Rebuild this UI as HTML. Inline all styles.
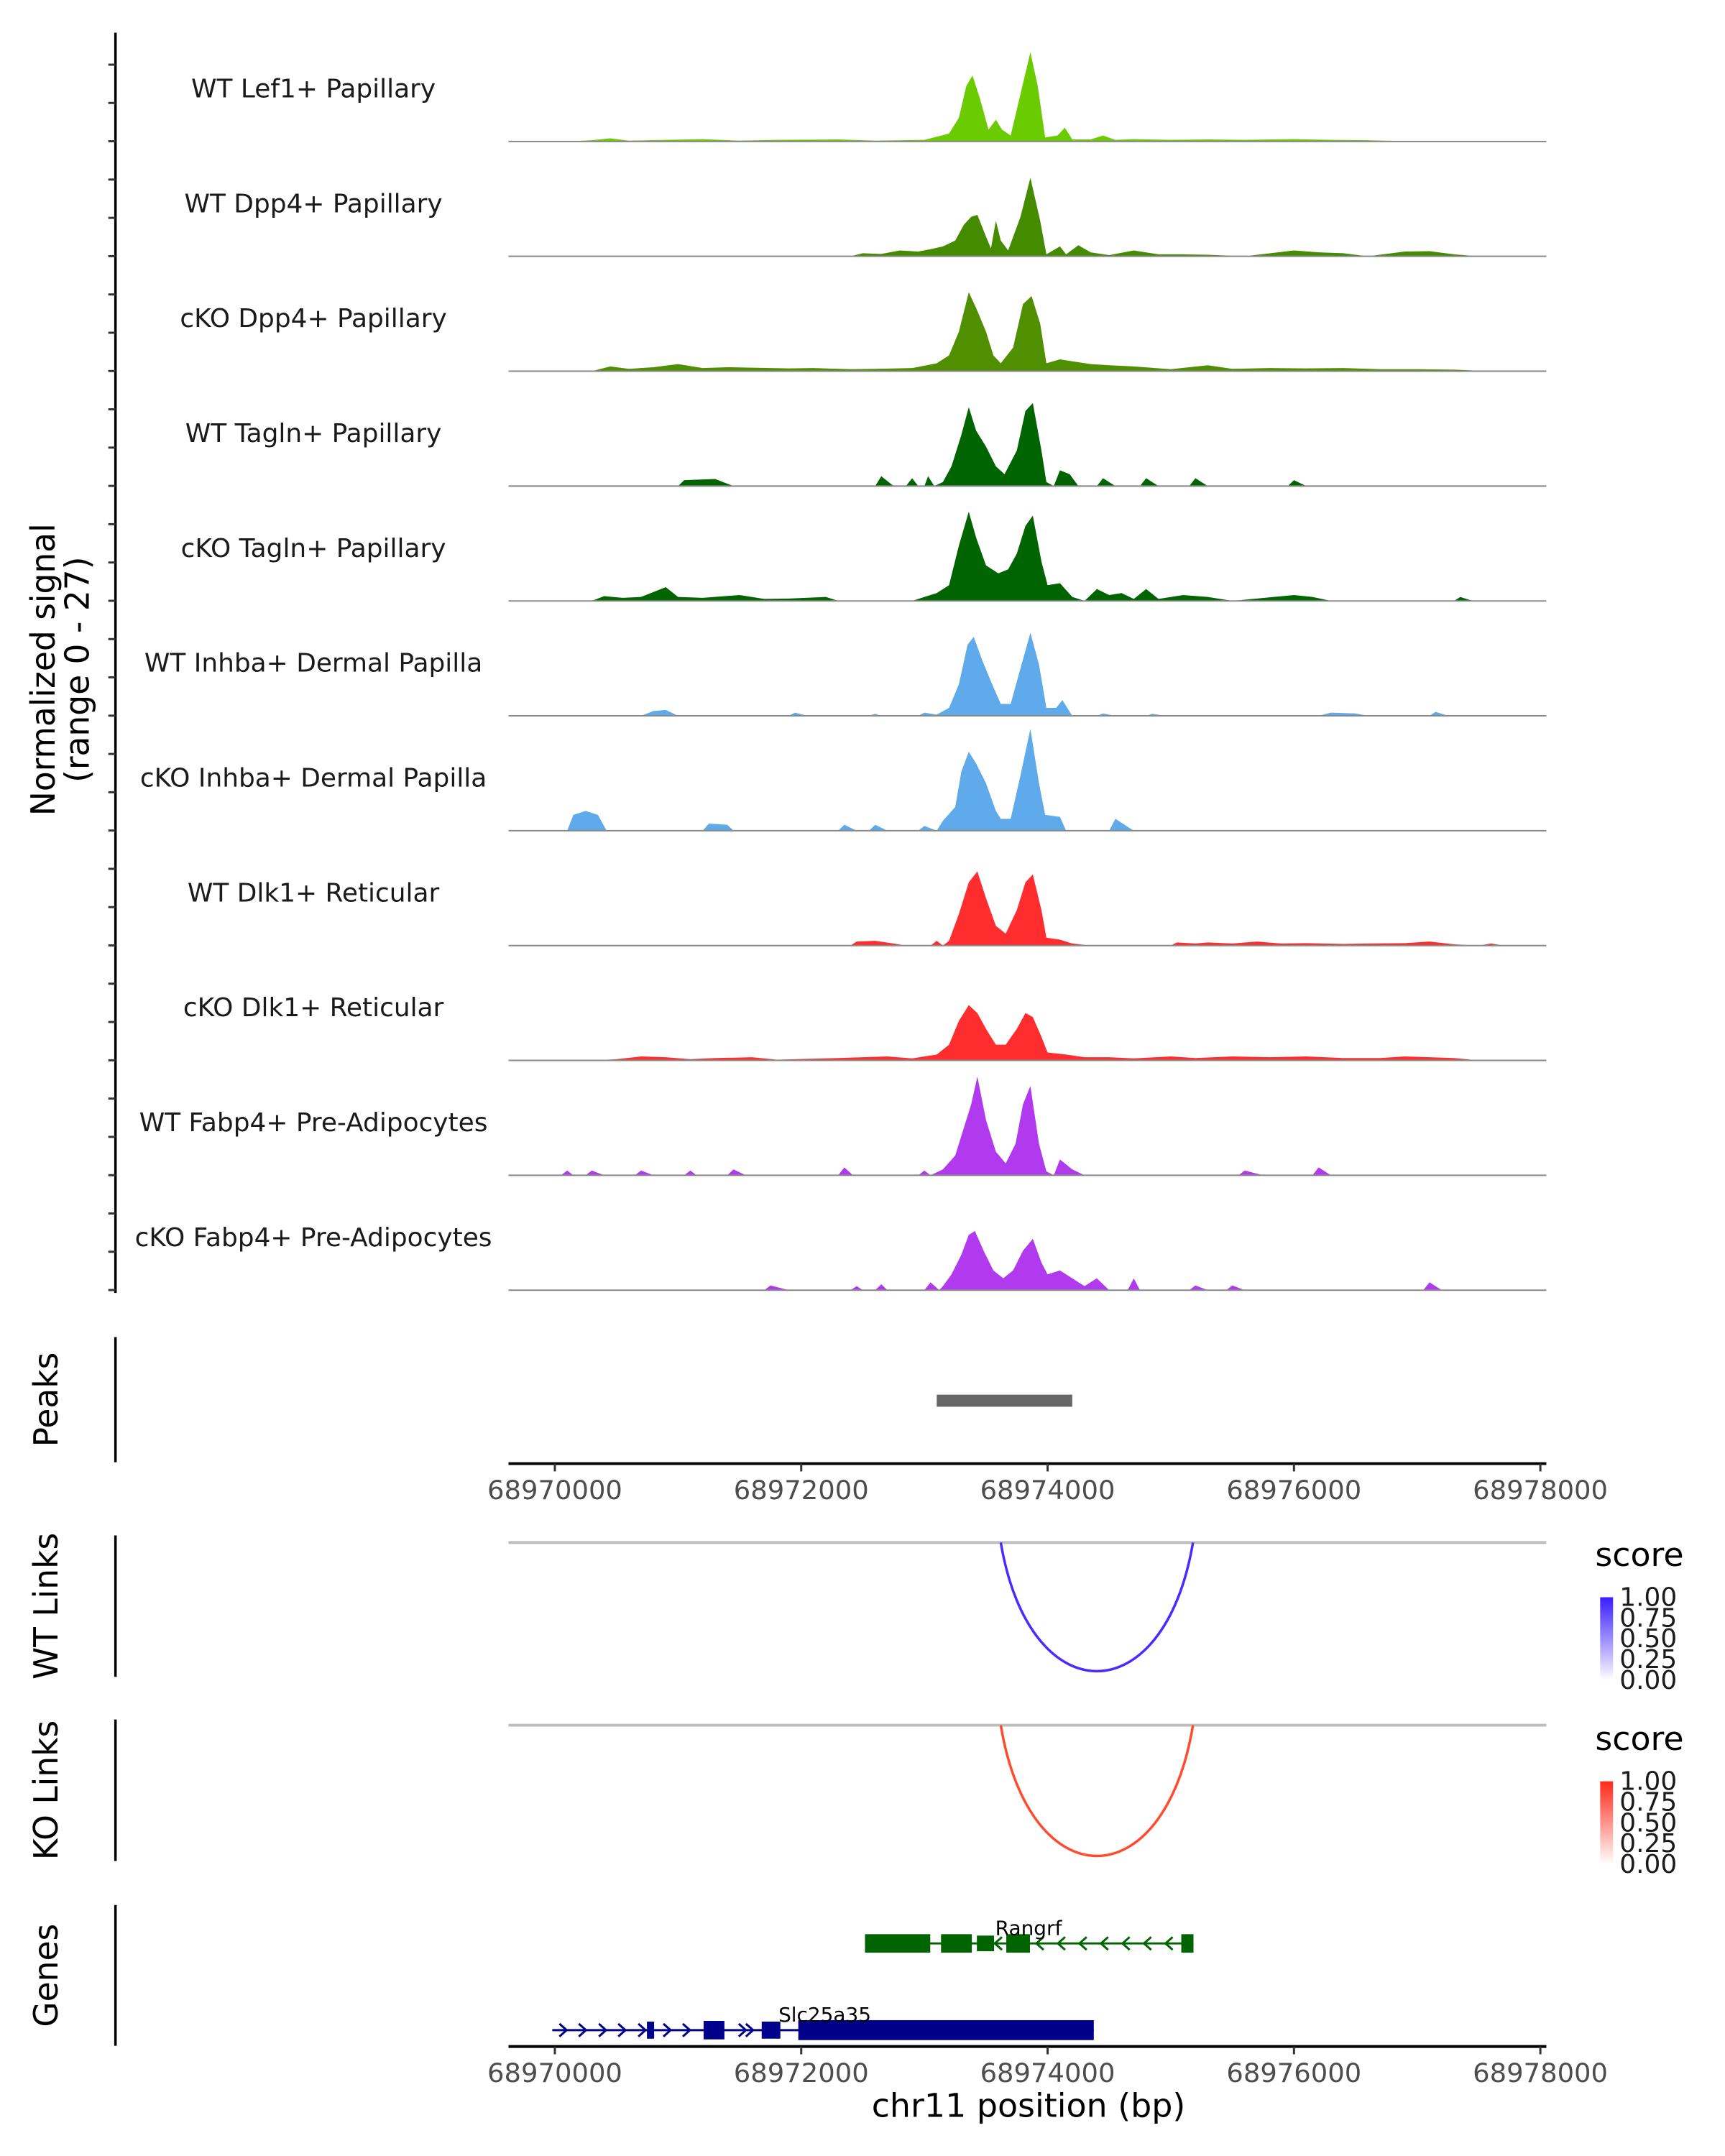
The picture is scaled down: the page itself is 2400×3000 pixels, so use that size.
<!DOCTYPE html>
<html><head><meta charset="utf-8">
<style>
html,body{margin:0;padding:0;background:#fff;}
svg{display:block;font-family:"DejaVu Sans","Liberation Sans",sans-serif;}
</style></head>
<body>
<svg id="chart" width="2400" height="3000" viewBox="0 0 2400 3000" xmlns="http://www.w3.org/2000/svg">
<defs>
<linearGradient id="gBlue" x1="0" y1="1" x2="0" y2="0"><stop offset="0" stop-color="#ffffff"/><stop offset="1" stop-color="#3a1cff"/></linearGradient>
<linearGradient id="gRed" x1="0" y1="1" x2="0" y2="0"><stop offset="0" stop-color="#ffffff"/><stop offset="1" stop-color="#ff2a1a"/></linearGradient>
</defs>
<g transform="scale(0.9979,0.9891)">
<g id="tracks"></g>
<g id="rest"></g>
</g>
</svg>
<script>
// ---- data (positions in kb offset from 68970000, values in normalized signal, range 0-27) ----
const trackNames = ["WT Lef1+ Papillary","WT Dpp4+ Papillary","cKO Dpp4+ Papillary","WT Tagln+ Papillary","cKO Tagln+ Papillary","WT Inhba+ Dermal Papilla","cKO Inhba+ Dermal Papilla","WT Dlk1+ Reticular","cKO Dlk1+ Reticular","WT Fabp4+ Pre-Adipocytes","cKO Fabp4+ Pre-Adipocytes"];
const trackColors = ["#6acc00","#458b00","#4f8f00","#006400","#006400","#5eaaea","#5eaaea","#ff2d2d","#ff2d2d","#b23aee","#b23aee"];
const sigLef1 = [[0.1,0],[0.3,0.3],[0.45,0.8],[0.6,0.2],[0.9,0.4],[1.2,0.6],[1.5,0.2],[1.8,0.4],[2.3,0.5],[2.6,0.2],[3.0,0.4],[3.1,1.2],[3.2,2],[3.28,6],[3.34,14],[3.39,16.7],[3.45,11],[3.52,3],[3.58,5.5],[3.63,3],[3.7,1.5],[3.78,12],[3.86,22.6],[3.92,14],[3.98,1],[4.08,1.5],[4.14,3.5],[4.2,0.5],[4.35,0.5],[4.45,1.5],[4.55,0.4],[4.7,0.6],[5.0,0.4],[5.3,0.5],[5.6,0.4],[6.0,0.6],[6.3,0.4],[6.6,0.3],[7.0,0]];
const sigDpp4WT = [[2.4,0],[2.5,0.8],[2.65,0.6],[2.8,1.5],[2.95,1.2],[3.05,1.8],[3.15,2.5],[3.25,4],[3.32,8],[3.38,10],[3.43,10.5],[3.5,5],[3.54,2],[3.58,9],[3.62,4],[3.68,1.5],[3.78,10],[3.86,19.9],[3.94,9],[3.99,0.5],[4.1,2.5],[4.15,0.5],[4.25,2.8],[4.35,1],[4.5,0.3],[4.7,1.5],[4.9,0.5],[5.1,0.5],[5.3,0.4],[5.6,0],[6.0,1.5],[6.2,1],[6.4,0.8],[6.6,0],[6.9,1.2],[7.1,1.3],[7.3,0.5],[7.5,0]];
const sigDpp4KO = [[0.3,0],[0.45,1.2],[0.6,0.6],[0.8,1],[1.0,1.8],[1.2,0.8],[1.4,1],[1.6,0.9],[1.9,0.7],[2.1,0.8],[2.4,0.5],[2.6,0.6],[2.9,0.8],[3.1,2],[3.2,4],[3.28,10],[3.36,20],[3.42,16],[3.5,10],[3.56,4],[3.62,2],[3.72,6],[3.8,17],[3.87,19],[3.94,12],[3.99,2],[4.1,3],[4.2,2.5],[4.35,1.8],[4.5,1.5],[4.7,1.2],[5.0,0.5],[5.3,1.5],[5.5,0.6],[5.8,0.8],[6.1,0.7],[6.4,0.8],[6.7,0.5],[7.0,0.5],[7.3,0.4],[7.6,0]];
const sigTaglnWT = [[1.0,0],[1.05,1.5],[1.3,1.8],[1.45,0],[2.6,0],[2.65,2.5],[2.75,0],[2.85,0],[2.9,2],[2.95,0],[3.0,0],[3.03,2.5],[3.08,0],[3.15,1],[3.22,5],[3.3,13],[3.36,20],[3.42,14],[3.5,10],[3.58,5],[3.65,3],[3.75,9],[3.82,19],[3.88,21],[3.95,9],[3.99,1],[4.05,0],[4.1,4],[4.18,3],[4.25,0],[4.4,0],[4.45,2],[4.55,0],[4.75,0],[4.8,2],[4.9,0],[5.15,0],[5.2,2],[5.3,0],[5.95,0],[6.0,1.5],[6.1,0]];
const sigTaglnKO = [[0.3,0],[0.4,1.2],[0.55,0.8],[0.7,1],[0.9,3.5],[1.0,1],[1.2,0.8],[1.5,1.5],[1.7,0.5],[1.9,0.6],[2.2,1],[2.3,0],[2.9,0],[3.0,1],[3.1,2],[3.2,4],[3.28,14],[3.36,22.6],[3.42,16],[3.5,9],[3.6,7],[3.68,8],[3.75,12],[3.82,19],[3.88,21.6],[3.95,10],[4.0,4],[4.1,4.5],[4.2,1],[4.3,0],[4.4,3],[4.5,1.5],[4.6,2],[4.7,0.5],[4.8,3],[4.9,0.5],[5.1,1.5],[5.3,1],[5.5,0],[6.0,1.5],[6.15,1],[6.3,0],[7.3,0],[7.35,1],[7.45,0]];
const sigInhbaWT = [[0.7,0],[0.8,1.2],[0.9,1.5],[1.0,0],[1.9,0],[1.95,0.8],[2.05,0],[2.55,0],[2.6,0.5],[2.65,0],[2.95,0],[3.0,0.8],[3.1,0.3],[3.2,2],[3.28,8],[3.35,18],[3.4,20],[3.47,14],[3.55,8],[3.62,3],[3.7,3],[3.78,12],[3.86,21],[3.93,13],[3.99,2],[4.07,2],[4.12,4],[4.2,0],[4.4,0],[4.45,0.6],[4.55,0],[4.8,0],[4.85,0.5],[4.95,0],[6.2,0],[6.3,0.8],[6.5,0.6],[6.6,0],[7.1,0],[7.15,1],[7.25,0]];
const sigInhbaKO = [[0.1,0],[0.15,4],[0.25,5],[0.35,4],[0.42,0],[1.2,0],[1.25,1.8],[1.4,1.5],[1.45,0],[2.3,0],[2.35,1.5],[2.45,0],[2.55,0],[2.6,1.5],[2.7,0],[2.95,0],[3.0,1.2],[3.1,0],[3.15,2.5],[3.25,6],[3.3,15],[3.36,20],[3.42,17],[3.5,12],[3.58,5],[3.62,3],[3.7,3],[3.78,14],[3.86,25.8],[3.93,12],[3.98,4],[4.1,3.5],[4.15,0],[4.5,0],[4.55,3],[4.65,1],[4.7,0]];
const sigDlk1WT = [[2.4,0],[2.45,1],[2.6,1.2],[2.75,0.5],[2.85,0],[3.05,0],[3.1,1.2],[3.15,0],[3.2,1.2],[3.28,8],[3.36,16],[3.43,18.8],[3.5,12],[3.58,5],[3.66,3],[3.75,9],[3.82,16],[3.88,18],[3.95,9],[3.99,2],[4.1,1.5],[4.2,0.5],[4.35,0],[5.0,0],[5.05,0.8],[5.2,0.5],[5.3,0.8],[5.5,0.5],[5.7,1],[5.9,0.5],[6.1,0.6],[6.4,0.4],[6.6,0.5],[6.9,0.6],[7.1,1],[7.3,0.3],[7.5,0],[7.6,0.5],[7.7,0]];
const sigDlk1KO = [[0.3,0],[0.5,0.3],[0.7,1],[0.9,0.8],[1.1,0.3],[1.3,0.6],[1.6,0.8],[1.8,0.2],[2.3,0.6],[2.5,0.8],[2.7,1],[2.9,0.5],[3.0,1],[3.1,1.5],[3.2,4],[3.28,10],[3.36,14],[3.43,12],[3.5,8],[3.58,4],[3.66,4],[3.75,8],[3.82,12],[3.88,11],[3.95,6],[4.0,2],[4.15,1.5],[4.3,0.8],[4.5,0.8],[4.7,0.5],[5.0,1],[5.2,0.6],[5.5,1],[5.8,0.8],[6.1,1],[6.4,0.6],[6.7,0.6],[6.9,1],[7.1,0.8],[7.3,0.6],[7.5,0]];
const sigFabp4WT = [[0.05,0],[0.1,1.2],[0.15,0],[0.25,0],[0.3,1.2],[0.4,0],[0.65,0],[0.7,1.2],[0.8,0],[1.05,0],[1.1,1.2],[1.15,0],[1.4,0],[1.45,1.5],[1.55,0],[2.3,0],[2.35,2],[2.42,0],[2.95,0],[3.0,1.2],[3.05,0],[3.15,1.5],[3.25,5],[3.32,12],[3.38,18],[3.43,25],[3.5,14],[3.58,6],[3.66,3],[3.74,8],[3.8,18],[3.86,22.6],[3.93,8],[3.99,1],[4.05,0],[4.1,4],[4.2,1.5],[4.3,0],[5.55,0],[5.6,1.2],[5.75,0],[6.15,0],[6.2,2],[6.3,0]];
const sigFabp4KO = [[1.7,0],[1.75,1.2],[1.9,0],[2.4,0],[2.45,1],[2.5,0],[2.6,0],[2.65,1.5],[2.7,0],[3.0,0],[3.05,2],[3.12,0],[3.15,1],[3.22,4],[3.3,9],[3.36,14],[3.41,15],[3.48,10],[3.56,5],[3.64,3],[3.72,5],[3.8,10],[3.88,13],[3.95,7],[4.0,4],[4.1,5],[4.2,3],[4.3,1],[4.4,3],[4.5,0],[4.65,0],[4.7,3],[4.75,0],[5.15,0],[5.2,1.2],[5.3,0],[5.45,0],[5.5,1.2],[5.6,0],[7.05,0],[7.1,2],[7.2,0]];
const signals = [sigLef1,sigDpp4WT,sigDpp4KO,sigTaglnWT,sigTaglnKO,sigInhbaWT,sigInhbaKO,sigDlk1WT,sigDlk1KO,sigFabp4WT,sigFabp4KO];
const xTicks = [68970000,68972000,68974000,68976000,68978000];
const peakRegions = [[68973100,68974200]];
const wtLinks = [[68973620,68975180,1.0]];
const koLinks = [[68973620,68975180,1.0]];
const legendTicks = ["1.00","0.75","0.50","0.25","0.00"];

// ---- scales ----
const NS="http://www.w3.org/2000/svg";
const X0=773.6, PXBP=0.17175, PLOT_L=709, PLOT_R=2156;
const xbp = bp => X0 + (bp-68970000)*PXBP;
const xkb = kb => X0 + kb*1000*PXBP;
const baseY = i => 199 + i*161.6;
const ySig = (i,v) => baseY(i) - v*(150/27);

function el(tag,attrs,parent,text){const e=document.createElementNS(NS,tag);for(const k in attrs)e.setAttribute(k,attrs[k]);if(text!==undefined)e.textContent=text;parent.appendChild(e);return e;}
const T=document.getElementById('tracks');
const R=document.getElementById('rest');

signals.forEach((sig,i)=>{
  const g=el('g',{},T);
  
  
  let pts=xkb(sig[0][0]).toFixed(1)+','+baseY(i).toFixed(1)+' ';
  sig.forEach(p=>{pts+=xkb(p[0]).toFixed(1)+','+ySig(i,p[1]).toFixed(1)+' ';});
  pts+=xkb(sig[sig.length-1][0]).toFixed(1)+','+baseY(i).toFixed(1);
  const a=el('polygon',{points:pts,fill:trackColors[i]},g);
  
  
  const b=el('line',{x1:PLOT_L,x2:PLOT_R,y1:baseY(i),y2:baseY(i),stroke:'#888',"stroke-width":2},g);
  
  
  const t=el('text',{x:437,y:baseY(i)-62,"text-anchor":"middle","font-size":36,fill:'#1a1a1a'},g,trackNames[i]);
  
  
});

const ya=el('line',{x1:161,x2:161,y1:46,y2:1819,stroke:'#000',"stroke-width":3.5},R);


for(let k=0;k<33;k++){const y=91+k*53.87;if(y>1815)break;
  const tk=el('line',{x1:151,x2:161,y1:y,y2:y,stroke:'#333',"stroke-width":3},R);
  
  
}
const yt=el('text',{transform:'translate(76,942) rotate(-90)',"text-anchor":"middle","font-size":46,fill:'#000'},R);


el('tspan',{x:0,dy:0},yt,'Normalized signal');
el('tspan',{x:0,dy:48},yt,'(range 0 - 27)');

function sideAxis(y1,y2,label,name){
  const l=el('line',{x1:161,x2:161,y1:y1,y2:y2,stroke:'#000',"stroke-width":3.5},R);
  
  
  const t=el('text',{transform:`translate(80,${(y1+y2)/2}) rotate(-90)`,"text-anchor":"middle","font-size":46,fill:'#000'},R,label);
  
  
}
sideAxis(1881,2057,'Peaks','peaks');
sideAxis(2160,2359,'WT Links','wt-links');
sideAxis(2419,2618,'KO Links','ko-links');
sideAxis(2680,2878,'Genes','genes');

peakRegions.forEach(p=>{
  const r=el('rect',{x:xbp(p[0]),y:1962,width:xbp(p[1])-xbp(p[0]),height:17,fill:'#666'},R);
  
  
});

function xAxis(y,name){
  const l=el('line',{x1:PLOT_L,x2:PLOT_R,y1:y,y2:y,stroke:'#000',"stroke-width":4},R);
  
  
  xTicks.forEach(v=>{
    const tk=el('line',{x1:xbp(v),x2:xbp(v),y1:y,y2:y+11,stroke:'#333',"stroke-width":3},R);
    
    
    const t=el('text',{x:xbp(v),y:y+50,"text-anchor":"middle","font-size":37,fill:'#4d4d4d'},R,String(v));
    
    
  });
}
xAxis(2059,'peaks-x-axis');
xAxis(2879,'genes-x-axis');
const xt=el('text',{x:1434,y:2978,"text-anchor":"middle","font-size":46,fill:'#000'},R,'chr11 position (bp)');



function links(data,lineY,depth,color,grad,legY,name){
  const gl=el('line',{x1:PLOT_L,x2:PLOT_R,y1:lineY,y2:lineY,stroke:'#bdbdbd',"stroke-width":4},R);
  
  
  data.forEach(d=>{
    const a=xbp(d[0]),b=xbp(d[1]);const c=lineY+depth*4/3;
    const p=el('path',{d:`M${a},${lineY} C${a+(b-a)*0.15},${c} ${b-(b-a)*0.15},${c} ${b},${lineY}`,fill:'none',stroke:color,"stroke-width":3.5},R);
    
    
  });
  const s=el('text',{x:2224,y:legY,"font-size":46,fill:'#000'},R,'score');
  
  
  const bar=el('rect',{x:2231,y:legY+44,width:18,height:117,fill:grad},R);
  
  
  legendTicks.forEach((t,k)=>{
    const tx=el('text',{x:2258,y:legY+44+k*29.2+12,"font-size":36,fill:'#1a1a1a'},R,t);
    
    
  });
}
links(wtLinks,2170,181,'#4a2bff','url(#gBlue)',2203,'wt-links');
links(koLinks,2427,184,'#ff4a2e','url(#gRed)',2462,'ko-links');

function gene(y,x1,x2,exons,color,arrows,dir,label,lx,ly,name){
  const g=el('g',{},R);
  
  
  el('line',{x1:x1,x2:x2,y1:y,y2:y,stroke:color,"stroke-width":3},g);
  exons.forEach(e=>el('rect',{x:e[0],y:y-e[2]/2,width:e[1]-e[0],height:e[2],fill:color},g));
  arrows.forEach(ax=>el('path',{d:dir>0?`M${ax-5},${y-9} L${ax+5},${y} L${ax-5},${y+9}`:`M${ax+5},${y-9} L${ax-5},${y} L${ax+5},${y+9}`,fill:'none',stroke:color,"stroke-width":3},g));
  el('text',{x:lx,y:ly,"text-anchor":"middle","font-size":28,fill:'#000'},g,label);
}
gene(2734,1206,1664,[[1206,1297,26],[1312,1355,26],[1362,1386,22],[1403,1436,26],[1647,1664,26]],'#006400',[1392,1450,1480,1510,1540,1570,1600,1630],-1,'Rangrf',1434,2722,'gene-rangrf');
gene(2856,770,1525,[[902,912,24],[981,1010,26],[1062,1088,24],[1113,1525,28]],'#00008b',[785,812,840,867,895,930,957,1035,1045],1,'Slc25a35',1150,2844,'gene-slc25a35');
</script>
</body></html>
